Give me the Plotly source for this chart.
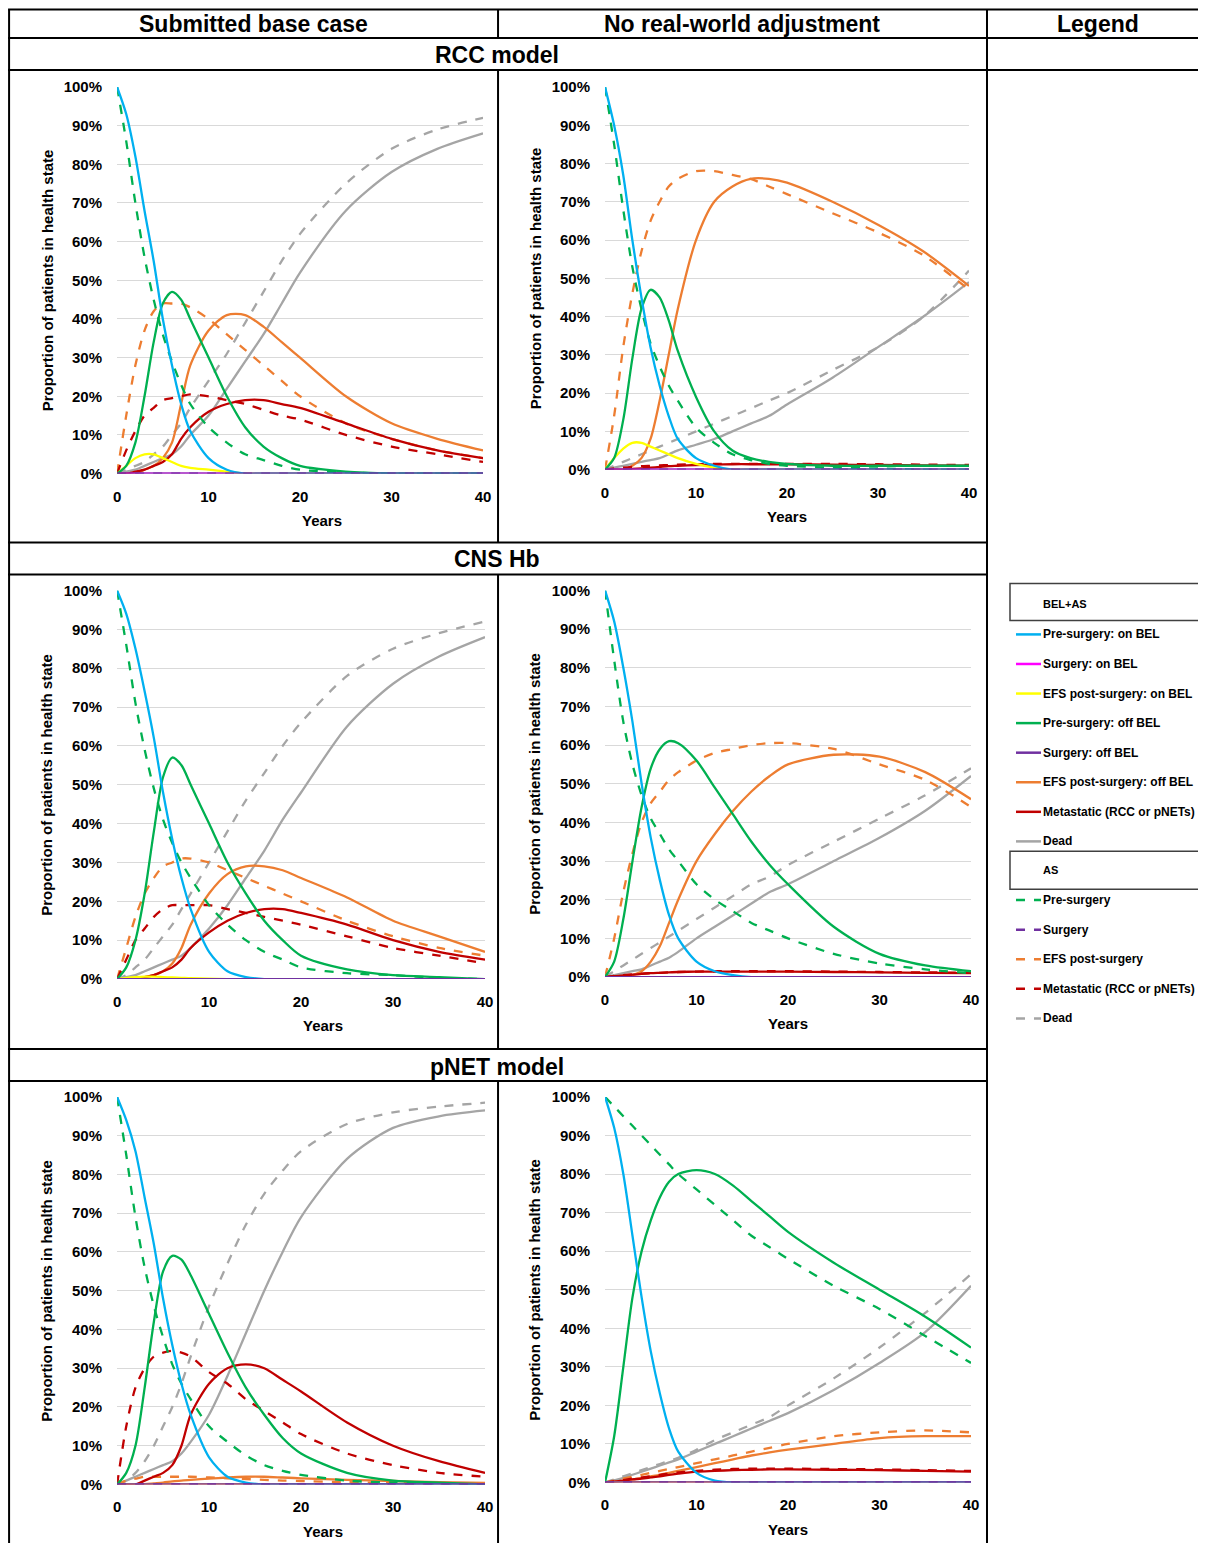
import plotly.graph_objects as go

W, H = 1190, 1535
OFF = 8
SC, BX, BY = 0.99, 4, 9   # empirical compensation of the page capture
years = [0,1,2,3,4,5,6,7,8,10,12,14,16,18,20,25,30,35,40]
Z = [0]*19

rcc_base = dict(
 pre_on=[100,93,82,68,55,40,28,18,11,4,1,0,0,0,0,0,0,0,0],
 efs_on=[0,2,4,5,5,4,3,2,1.5,1,0.5,0,0,0,0,0,0,0,0],
 pre_off=[0,2,8,20,34,44,47,45,40,30,20,12,7,4,2,0.5,0,0,0],
 efs_off=[0,0,0,1,2,4,8,18,28,37,41,41,38,34,30,20,13,9,6],
 met=[0,0,0.5,1,2,3,5,9,12,16,18,19,19,18,17,13,9,6,4],
 dead=[0,0.5,1,2,3,4,5,7,10,15,22,29,36,44,52,68,78,84,88],
 as_pre=[100,86,70,56,45,36,29,23,18,12,8,5,3.5,2,1,0.3,0,0,0],
 as_efs=[0,15,28,37,42,44,44,44,43,40,36,32,28,24,20,13,9,6,4],
 as_met=[0,6,11,15,17,19,19.5,20,20.5,20,19,18,16.5,15,14,10,7,5,3],
 as_dead=[0,1,2,3,5,7,10,13,17,24,31,39,47,55,62,75,84,89,92])
rcc_noadj = dict(
 pre_on=[100,90,77,60,45,32,22,14,8,3,1,0,0,0,0,0,0,0,0],
 efs_on=[0,3,5.5,7,7,6,5,4,3,1.5,0.5,0,0,0,0,0,0,0,0],
 pre_off=[0,3,13,29,42,47,45,39,31,19,10,5,3,2,1.5,1,1,1,1],
 efs_off=[0,0,0,1,3,8,18,30,42,60,70,74,76,76,75,70,64,57,48],
 met=[0,0,0,0.2,0.3,0.5,0.7,0.9,1,1.2,1.3,1.4,1.4,1.4,1.4,1.3,1.2,1.1,1],
 dead=[0,0.5,1,1.5,2,2.5,3,4,5,6.5,8,10,12,14,17,24,32,40,49],
 as_pre=[100,85,68,53,42,33,27,22,18,11,7,4,2.5,1.5,1,0.5,0.3,0,0],
 as_efs=[0,14,32,46,57,65,70,74,76,78,78,77,76,74,72,67,62,56,47],
 as_met=[0,0.3,0.5,0.7,0.9,1,1.1,1.2,1.3,1.4,1.5,1.5,1.5,1.5,1.5,1.5,1.4,1.3,1.2],
 as_dead=[0,1,2,3,4,5,6,7,8,10,12,14,16,18,20,26,32,40,52])
cns_base = dict(
 pre_on=[100,94,85,74,62,48,36,26,18,7,2,0.5,0,0,0,0,0,0,0],
 efs_on=[0,0.3,0.5,0.6,0.6,0.5,0.4,0.3,0.2,0.1,0,0,0,0,0,0,0,0,0],
 pre_off=[0,3,10,22,38,52,57,55,50,40,30,22,15,10,6,2.5,1,0.5,0],
 efs_off=[0,0,0,0.5,1,2,4,8,14,22,27,29,29,28,26,21,15,11,7],
 met=[0,0,0,0.5,1,2,3,5,8,12,15,17,18,18,17,14,10,7,5],
 dead=[0,0.5,1,2,3,4,5,6,8,13,19,26,33,41,48,65,76,83,88],
 as_pre=[100,86,71,59,49,41,35,30,26,19,14,10,7,5,3,1.5,1,0.3,0],
 as_efs=[0,8,16,22,26,29,30,31,31,30,28,26,24,22,20,15,11,8,6],
 as_met=[0,5,10,13,16,18,19,19,19,19,18,17,16,15,14,11,8,6,4],
 as_dead=[0,1,3,5,8,11,14,18,22,30,38,46,53,60,66,78,85,89,92])
cns_noadj = dict(
 pre_on=[100,92,80,66,50,36,25,16,10,4,1.5,0.5,0,0,0,0,0,0,0],
 efs_on=Z,
 pre_off=[0,4,15,30,44,54,59,61,60.5,56,49,42,35,29,24,13,6,3,1.5],
 efs_off=[0,0,0,0.5,1.5,4,8,14,20,30,37,43,48,52,55,57.5,57,53,46],
 met=[0,0.2,0.4,0.6,0.8,1,1.1,1.2,1.3,1.4,1.4,1.4,1.4,1.4,1.4,1.3,1.2,1.1,1],
 dead=[0,0.5,1,1.5,2,3,4,5,6.5,10,13,16,19,22,24,30,36,43,52],
 as_pre=[100,82,66,55,47,41,37,33,30,24,20,17,14,12,10,6,3.5,2,1],
 as_efs=[0,10,22,32,40,45,48,51,53,56,58,59,60,60.5,60.5,59,55,51,44],
 as_met=[0,0.3,0.5,0.7,0.9,1,1.1,1.2,1.3,1.4,1.5,1.5,1.5,1.5,1.5,1.4,1.3,1.2,1.1],
 as_dead=[0,1.5,3,4.5,6,7.5,9,10.5,12,15,18,21,24,26,29,35,41,47,54])
pnet_base = dict(
 pre_on=[100,94,86,74,62,48,36,26,18,7,2,0.5,0,0,0,0,0,0,0],
 efs_on=Z,
 pre_off=[0,3,10,25,42,55,59,58,54,44,34,25,18,12,8,3,1,0.5,0],
 efs_off=[0,0,0,0.1,0.3,0.5,0.8,1,1.2,1.5,1.8,2,2,1.8,1.6,1.2,0.9,0.6,0.4],
 met=[0,0,0,1,2,3,5,10,18,26,30,31,30,27,24,16,10,6,3],
 dead=[0,1,2,3,4,5,6,8,11,18,28,39,50,60,69,84,92,95,96.5],
 as_pre=[100,85,69,56,46,38,31,26,22,15,11,7.5,5,3.5,2.5,1,0.5,0.2,0],
 as_efs=[0,1,1.5,2,2,2,2,2,2,1.8,1.6,1.4,1.2,1,0.9,0.6,0.4,0.3,0.2],
 as_met=[0,15,25,30,33,34,34.5,34,33,29,26,22,19,16,13,8,5,3,2],
 as_dead=[0,1,3,6,10,15,20,26,33,46,57,67,75,81,86,93,96,97.5,98.5])
pnet_noadj = dict(
 pre_on=[100,92,80,64,48,34,23,14,8,2.5,0.5,0,0,0,0,0,0,0,0],
 efs_on=Z,
 pre_off=[0,12,30,48,60,68,74,78,80,81,80,77,73,69,65,57,50,43,35],
 efs_off=[0,0.2,0.5,0.8,1.2,1.6,2,2.5,3,4,5,6,7,7.8,8.5,10,11.5,12,12],
 met=[0,0.2,0.5,0.8,1,1.3,1.6,2,2.3,2.8,3,3.2,3.3,3.4,3.4,3.3,3.2,3,2.8],
 dead=[0,0.6,1.2,2,2.8,3.6,4.4,5.2,6,8,10,12,14,16,18,24,31,39,51],
 as_pre=[100,97.5,95,92.5,90,87.5,85,82.5,80,76,72,68,64,61,58,51,45,38,31],
 as_efs=[0,0.5,1,1.5,2,2.5,3,3.5,4,5,6,7,8,9,10,12,13,13.5,13],
 as_met=[0,0.3,0.6,1,1.3,1.6,2,2.3,2.6,3,3.3,3.5,3.6,3.6,3.6,3.5,3.4,3.2,3],
 as_dead=[0,0.8,1.6,2.4,3.2,4,4.8,5.6,6.4,8.5,11,13,15,17,20,27,35,44,54])

col_headers = ["Submitted base case", "No real-world adjustment", "Legend"]
row_headers = ["RCC model", "CNS Hb", "pNET model"]
y_ticks = [0,10,20,30,40,50,60,70,80,90,100]
y_ticklabels = [f"<b>{v}%</b>" for v in y_ticks]
x_ticks = [0,10,20,30,40]
x_ticklabels = [f"<b>{v}</b>" for v in x_ticks]

series_bel = [("pre_on","#00B0F0","solid","Pre-surgery: on BEL"),
              ("surg_on","#FF00FF","solid","Surgery: on BEL"),
              ("efs_on","#FFFF00","solid","EFS post-surgery: on BEL"),
              ("pre_off","#00B050","solid","Pre-surgery: off BEL"),
              ("surg_off","#7030A0","solid","Surgery: off BEL"),
              ("efs_off","#ED7D31","solid","EFS post-surgery: off BEL"),
              ("met","#C00000","solid","Metastatic (RCC or pNETs)"),
              ("dead","#A5A5A5","solid","Dead")]
series_as = [("as_pre","#00B050","dash","Pre-surgery"),
             ("as_surg","#7030A0","dash","Surgery"),
             ("as_efs","#ED7D31","dash","EFS post-surgery"),
             ("as_met","#C00000","dash","Metastatic (RCC or pNETs)"),
             ("as_dead","#A5A5A5","dash","Dead")]
draw_order = ["dead","as_dead","efs_off","as_efs","met","as_met","surg_on","efs_on","pre_off","as_pre","pre_on","as_surg","surg_off"]
style = {k:(c,d) for k,c,d,_ in series_bel+series_as}

panels = [(rcc_base,(117,483,474,87)),(rcc_noadj,(605,969,470,87)),
          (cns_base,(117,485,980,591)),(cns_noadj,(605,971,978,591)),
          (pnet_base,(117,485,1486,1098)),(pnet_noadj,(605,971,1484,1098))]

def px(x): return ((x-BX)/SC - OFF)/W
def py(y): return 1-((y-BY)/SC - OFF)/H

fig = go.Figure()
FONT = "Liberation Sans Narrow, Arial Narrow, Liberation Sans"
TF = dict(family="Liberation Sans Narrow, Liberation Sans", size=15, color="black")
lay = {}
ann = []
for i,(d,(x0,x1,y0,y1)) in enumerate(panels):
    n = "" if i == 0 else str(i+1)
    for k in draw_order:
        vals = d.get(k, Z)
        c, ds = style[k]
        fig.add_trace(go.Scatter(x=years, y=vals, mode="lines", line=dict(color=c, dash=ds, width=2.3, shape="spline", smoothing=0.8),
                                 xaxis="x"+n, yaxis="y"+n, showlegend=False, hoverinfo="skip"))
    lay["xaxis"+n] = dict(domain=[px(x0), px(x1)], range=[0,40], tickvals=x_ticks, ticktext=x_ticklabels, showgrid=False, zeroline=False,
                          showline=False, ticks="", anchor="y"+n, ticklabelstandoff=12, tickfont=TF)
    lay["yaxis"+n] = dict(domain=[py(y0), py(y1)], range=[0,100], tickvals=y_ticks, ticktext=y_ticklabels,
                          showgrid=True, gridcolor="#D9D9D9", zeroline=False, showline=False, ticks="",
                          anchor="x"+n, ticklabelstandoff=14, tickfont=TF)
    ann.append(dict(x=px((x0+x1)/2), y=py(y0+47), xref="paper", yref="paper", text="<b>Years</b>", showarrow=False,
                    yanchor="middle", font=TF))
    ann.append(dict(x=px(x0-70), y=py((y0+y1)/2), xref="paper", yref="paper", text="<b>Proportion of patients in health state</b>",
                    showarrow=False, textangle=-90, xanchor="center", yanchor="middle", font=TF))

shapes = []
def hline(y, xa, xb, w=2):
    shapes.append(dict(type="line", xref="paper", yref="paper", x0=px(xa), x1=px(xb), y0=py(y), y1=py(y), line=dict(color="black", width=w)))
def vline(x, ya, yb, w=2):
    shapes.append(dict(type="line", xref="paper", yref="paper", x0=px(x), x1=px(x), y0=py(ya), y1=py(yb), line=dict(color="black", width=w)))
hline(9.5, 8, 1204); hline(38, 8, 1204); hline(70, 8, 1204)
for y in [543, 575, 1050, 1082]:
    hline(y, 8, 987)
vline(9, 9.5, 1551); vline(498, 9.5, 38); vline(987, 9.5, 1551)
for ya, yb in [(70,543),(575,1050),(1082,1551)]:
    vline(498, ya, yb)

def label(x, y, text, size, xanchor="center", bold=True, fam=FONT):
    ann.append(dict(x=px(x), y=py(y), xref="paper", yref="paper", text=(f"<b>{text}</b>" if bold else text), showarrow=False,
                    xanchor=xanchor, yanchor="middle", font=dict(family=fam, size=size, color="black")))
label(253, 24, col_headers[0], 23); label(742, 24, col_headers[1], 23); label(1098, 24, col_headers[2], 23)
label(497, 55, row_headers[0], 23); label(497, 560, row_headers[1], 23); label(497, 1068, row_headers[2], 23)

def box(ya, yb):
    shapes.append(dict(type="rect", xref="paper", yref="paper", x0=px(1010), x1=px(1200), y0=py(yb), y1=py(ya), line=dict(color="#404040", width=1.5)))
box(584, 621); label(1041, 605, "BEL+AS", 11, "left")
for j,(k,c,ds,t) in enumerate(series_bel):
    y = 635 + j*29.6
    shapes.append(dict(type="line", xref="paper", yref="paper", x0=px(1016), x1=px(1041), y0=py(y), y1=py(y), line=dict(color=c, width=2.5, dash=ds)))
    label(1041, y, t, 12, "left")
box(852, 890); label(1041, 871, "AS", 11, "left")
for j,(k,c,ds,t) in enumerate(series_as):
    y = 901 + j*29.6
    shapes.append(dict(type="line", xref="paper", yref="paper", x0=px(1016), x1=px(1041), y0=py(y), y1=py(y), line=dict(color=c, width=2.5, dash="dash")))
    label(1041, y, t, 12, "left")

fig.update_layout(width=W, height=H, margin=dict(l=0, r=0, t=0, b=0), plot_bgcolor="white", paper_bgcolor="white",
                  shapes=shapes, annotations=ann, showlegend=False, **lay)
fig.write_html("out.html", config={"displayModeBar": False})
